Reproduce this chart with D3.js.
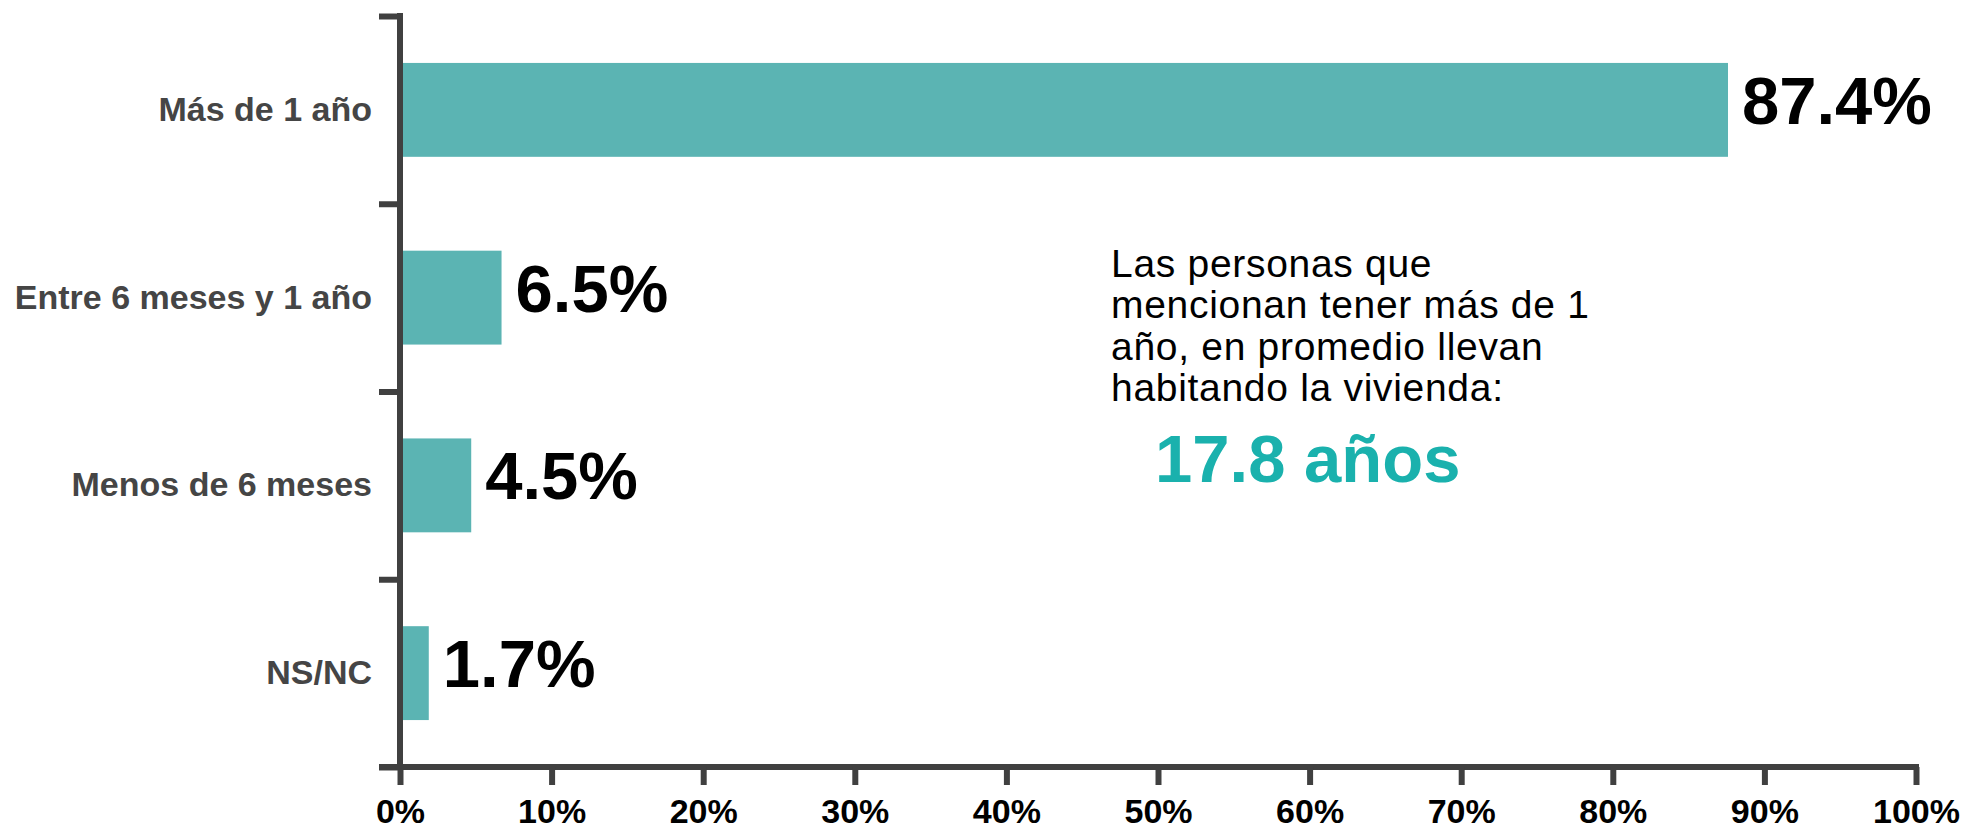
<!DOCTYPE html>
<html>
<head>
<meta charset="utf-8">
<script src="https://cdn.jsdelivr.net/npm/d3@7"></script>
<style>
  html, body { margin: 0; padding: 0; background: #ffffff; }
  svg { display: block; }
  text { font-family: "Liberation Sans", Arial, Helvetica, sans-serif; }
</style>
</head>
<body>
<svg id="chart" width="1968" height="829"></svg>
<script>
// ---- data ----
const categories = ["Más de 1 año", "Entre 6 meses y 1 año", "Menos de 6 meses", "NS/NC"];
const values = [87.4, 6.5, 4.5, 1.7];
const xTicks = [0, 10, 20, 30, 40, 50, 60, 70, 80, 90, 100];
const annotationLines = ["Las personas que", "mencionan tener más de 1", "año, en promedio llevan", "habitando la vivienda:"];
const highlight = "17.8 años";

// ---- layout ----
const W = 1968, H = 829;
const m = { left: 400, right: 52, top: 16, bottom: 62 };
const svg = d3.select("#chart");

const x = d3.scaleLinear().domain([0, 100]).range([m.left, W - m.right]);
const y = d3.scaleBand().domain(categories).range([m.top, H - m.bottom])
  .paddingInner(0.5).paddingOuter(0.25);
const yEdges = d3.scaleLinear().domain([0, categories.length]).range([m.top, H - m.bottom]);

const axisColor = "#404040";
const barColor = "#5bb4b3";

// bars
svg.append("g").selectAll("rect").data(values).join("rect")
  .attr("x", x(0))
  .attr("y", (d, i) => y(categories[i]))
  .attr("width", d => x(d) - x(0) + 3)
  .attr("height", y.bandwidth())
  .attr("fill", barColor);

// value labels
svg.append("g").selectAll("text").data(values).join("text")
  .attr("x", d => x(d) + 17)
  .attr("y", (d, i) => y(categories[i]) + y.bandwidth() / 2 + 14)
  .attr("font-size", 67)
  .attr("font-weight", "bold")
  .attr("fill", "#000")
  .text(d => d.toFixed(1) + "%");

// x axis
const xAxis = svg.append("g")
  .attr("transform", `translate(0,${H - m.bottom})`)
  .call(d3.axisBottom(x).tickValues(xTicks).tickSizeInner(18).tickSizeOuter(0)
    .tickPadding(14).tickFormat(d => d + "%"));
xAxis.select(".domain").attr("stroke", axisColor).attr("stroke-width", 6)
  .attr("d", `M${m.left - 21},0H${W - m.right + 3}`);
xAxis.selectAll(".tick line").attr("stroke", axisColor).attr("stroke-width", 6);
xAxis.selectAll(".tick text").attr("font-size", 34).attr("font-weight", "bold")
  .attr("fill", "#000").attr("font-family", "'Liberation Sans', Arial, sans-serif");

// y axis (edges with ticks)
const yAxisEdges = svg.append("g")
  .attr("transform", `translate(${m.left},0)`)
  .call(d3.axisLeft(yEdges).tickValues(d3.range(categories.length + 1))
    .tickSizeInner(21).tickSizeOuter(0).tickFormat(""));
yAxisEdges.select(".domain").attr("stroke", axisColor).attr("stroke-width", 6)
  .attr("d", `M0,${m.top - 3}V${H - m.bottom}`);
yAxisEdges.selectAll(".tick line").attr("stroke", axisColor).attr("stroke-width", 6);

// category labels
const yAxisLabels = svg.append("g")
  .attr("transform", `translate(${m.left},0)`)
  .call(d3.axisLeft(y).tickSize(0).tickPadding(28));
yAxisLabels.select(".domain").remove();
yAxisLabels.selectAll(".tick text").attr("font-size", 34).attr("font-weight", "bold")
  .attr("fill", "#454545").attr("font-family", "'Liberation Sans', Arial, sans-serif");

// annotation
const ann = svg.append("g");
ann.selectAll("text").data(annotationLines).join("text")
  .attr("x", 1111)
  .attr("y", (d, i) => 277 + i * 41.3)
  .attr("font-size", 39)
  .attr("letter-spacing", "0.7px")
  .attr("fill", "#000")
  .text(d => d);
ann.append("text")
  .attr("x", 1155)
  .attr("y", 482)
  .attr("font-size", 67)
  .attr("font-weight", "bold")
  .attr("fill", "#1ab1ad")
  .text(highlight);
</script>
</body>
</html>
